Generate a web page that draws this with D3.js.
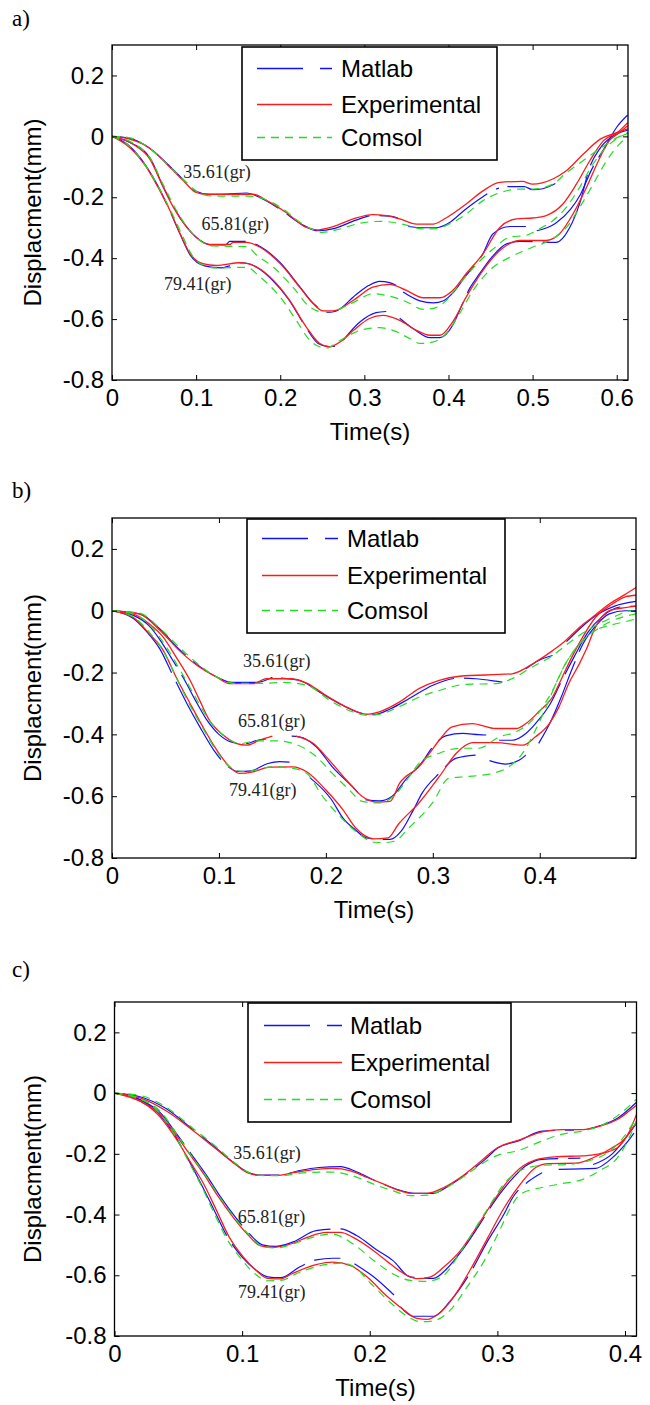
<!DOCTYPE html>
<html><head><meta charset="utf-8">
<script src="https://cdn.jsdelivr.net/npm/d3@7"></script>
<style>body{margin:0;background:#fff}svg{display:block}</style>
</head><body><svg id="chart" width="650" height="1405"></svg>
<script>
// ---------- DATA ----------
const seriesNames = ["Matlab", "Experimental", "Comsol"];
const loadLabels = ["35.61(gr)", "65.81(gr)", "79.41(gr)"];
const panelLetters = ["a)", "b)", "c)"];
const yTickValues = [-0.8, -0.6, -0.4, -0.2, 0, 0.2];
const xTicksA = [0, 0.1, 0.2, 0.3, 0.4, 0.5, 0.6];
const xTicksB = [0, 0.1, 0.2, 0.3, 0.4];
const xTicksC = [0, 0.1, 0.2, 0.3, 0.4];
const xMaxA = 0.6134, xMaxB = 0.49, xMaxC = 0.409;
const yMin = -0.8, yMax = 0.3;

// Panel a
const A_EXP_35 = [[0,0],[0.02,-0.008],[0.037,-0.026],[0.05,-0.05],[0.065,-0.091],[0.085,-0.146],[0.1,-0.184],[0.112,-0.19],[0.168,-0.19],[0.184,-0.211],[0.207,-0.25],[0.231,-0.299],[0.243,-0.307],[0.263,-0.296],[0.287,-0.271],[0.31,-0.257],[0.326,-0.26],[0.342,-0.271],[0.362,-0.288],[0.382,-0.288],[0.397,-0.268],[0.421,-0.222],[0.441,-0.179],[0.461,-0.151],[0.488,-0.148],[0.5,-0.157],[0.524,-0.14],[0.54,-0.113],[0.56,-0.059],[0.58,-0.01],[0.6,0.012],[0.613,0.025]];
const A_MAT_35 = [[0,0],[0.02,-0.006],[0.04,-0.03],[0.065,-0.088],[0.085,-0.143],[0.1,-0.18],[0.115,-0.19],[0.13,-0.19],[0.16,-0.186],[0.175,-0.2],[0.2,-0.24],[0.225,-0.288],[0.245,-0.31],[0.265,-0.302],[0.29,-0.275],[0.31,-0.26],[0.33,-0.262],[0.34,-0.268],[0.345,null],[0.352,-0.296],[0.37,-0.3],[0.385,-0.3],[0.4,-0.285],[0.42,-0.24],[0.44,-0.2],[0.455,-0.175],[0.46,-0.17],[0.465,null],[0.47,-0.165],[0.49,-0.165],[0.5,-0.175],[0.512,-0.172],[0.527,-0.155]];
const A_COM_35 = [[0,0],[0.02,-0.004],[0.04,-0.03],[0.065,-0.09],[0.088,-0.15],[0.105,-0.188],[0.12,-0.196],[0.16,-0.196],[0.18,-0.205],[0.2,-0.232],[0.225,-0.285],[0.25,-0.315],[0.27,-0.305],[0.295,-0.285],[0.32,-0.279],[0.345,-0.288],[0.37,-0.304],[0.385,-0.303],[0.397,-0.293],[0.421,-0.255],[0.441,-0.211],[0.461,-0.185],[0.485,-0.173],[0.5,-0.173],[0.524,-0.157],[0.54,-0.12],[0.56,-0.08],[0.58,-0.04],[0.6,-0.005],[0.613,0.012]];
const A_EXP_65 = [[0,0],[0.025,-0.026],[0.045,-0.075],[0.061,-0.168],[0.073,-0.233],[0.089,-0.299],[0.105,-0.342],[0.116,-0.355],[0.14,-0.355],[0.144,-0.348],[0.16,-0.348],[0.176,-0.364],[0.2,-0.418],[0.223,-0.495],[0.239,-0.549],[0.251,-0.573],[0.263,-0.573],[0.287,-0.538],[0.31,-0.495],[0.33,-0.486],[0.35,-0.506],[0.37,-0.53],[0.39,-0.53],[0.405,-0.506],[0.421,-0.451],[0.441,-0.386],[0.461,-0.299],[0.481,-0.271],[0.5,-0.268],[0.516,-0.26],[0.536,-0.222],[0.552,-0.157],[0.568,-0.08],[0.584,-0.015],[0.603,0.018],[0.613,0.045]];
const A_MAT_65 = [[0,0],[0.02,-0.018],[0.045,-0.07],[0.06,-0.16],[0.072,-0.225],[0.088,-0.295],[0.104,-0.34],[0.118,-0.356],[0.135,-0.356],[0.14,-0.345],[0.158,-0.345],[0.175,-0.36],[0.2,-0.415],[0.225,-0.5],[0.24,-0.55],[0.255,-0.578],[0.265,-0.575],[0.29,-0.52],[0.305,-0.49],[0.318,-0.476],[0.33,-0.48],[0.338,-0.49],[0.342,null],[0.346,-0.511],[0.366,-0.54],[0.382,-0.547],[0.394,-0.54],[0.405,-0.515],[0.42,-0.46],[0.44,-0.39],[0.453,-0.32],[0.473,-0.296],[0.492,-0.296],[0.496,null],[0.505,-0.31],[0.527,-0.286],[0.545,-0.24],[0.557,-0.19],[0.57,-0.11],[0.585,-0.04],[0.6,0.03],[0.613,0.07]];
const A_COM_65 = [[0,0],[0.025,-0.022],[0.045,-0.07],[0.062,-0.165],[0.075,-0.235],[0.09,-0.3],[0.106,-0.345],[0.12,-0.36],[0.16,-0.362],[0.172,-0.39],[0.192,-0.43],[0.215,-0.495],[0.235,-0.56],[0.25,-0.576],[0.26,-0.575],[0.287,-0.545],[0.31,-0.517],[0.326,-0.522],[0.35,-0.543],[0.37,-0.568],[0.382,-0.565],[0.397,-0.54],[0.413,-0.485],[0.43,-0.43],[0.453,-0.37],[0.473,-0.331],[0.492,-0.325],[0.508,-0.304],[0.524,-0.277],[0.54,-0.233],[0.556,-0.167],[0.572,-0.09],[0.588,-0.035],[0.603,-0.003],[0.613,0.01]];
const A_EXP_79 = [[0,0],[0.021,-0.037],[0.041,-0.102],[0.057,-0.179],[0.069,-0.244],[0.081,-0.32],[0.093,-0.386],[0.108,-0.418],[0.124,-0.424],[0.152,-0.415],[0.16,-0.417],[0.172,-0.429],[0.192,-0.473],[0.211,-0.538],[0.231,-0.626],[0.247,-0.68],[0.259,-0.691],[0.271,-0.675],[0.287,-0.637],[0.306,-0.598],[0.322,-0.588],[0.342,-0.604],[0.362,-0.637],[0.378,-0.653],[0.39,-0.653],[0.405,-0.609],[0.421,-0.528],[0.441,-0.44],[0.461,-0.375],[0.485,-0.342],[0.516,-0.342],[0.532,-0.32],[0.548,-0.255],[0.564,-0.168],[0.58,-0.07],[0.591,-0.015],[0.603,0.012],[0.613,0.035]];
const A_MAT_79 = [[0,0],[0.02,-0.03],[0.04,-0.095],[0.056,-0.17],[0.068,-0.24],[0.08,-0.315],[0.093,-0.39],[0.11,-0.425],[0.13,-0.432],[0.14,-0.425],[0.155,-0.415],[0.165,-0.42],[0.172,-0.43],[0.19,-0.47],[0.21,-0.535],[0.23,-0.625],[0.245,-0.68],[0.257,-0.69],[0.265,-0.69],[0.268,null],[0.275,-0.669],[0.295,-0.609],[0.314,-0.579],[0.326,-0.575],[0.332,null],[0.342,-0.597],[0.36,-0.635],[0.378,-0.661],[0.39,-0.661],[0.405,-0.62],[0.415,-0.56],[0.425,-0.5],[0.437,-0.451],[0.452,-0.395],[0.469,-0.353],[0.485,-0.345],[0.528,-0.348],[0.544,-0.3],[0.556,-0.22],[0.568,-0.1],[0.58,-0.04],[0.595,0.0],[0.613,0.02]];
const A_COM_79 = [[0,0],[0.02,-0.03],[0.04,-0.097],[0.057,-0.175],[0.07,-0.245],[0.083,-0.322],[0.095,-0.39],[0.11,-0.425],[0.125,-0.432],[0.16,-0.43],[0.176,-0.462],[0.2,-0.528],[0.219,-0.604],[0.235,-0.669],[0.247,-0.691],[0.255,-0.695],[0.271,-0.67],[0.295,-0.637],[0.318,-0.628],[0.334,-0.637],[0.354,-0.664],[0.366,-0.68],[0.382,-0.675],[0.397,-0.648],[0.413,-0.583],[0.429,-0.507],[0.453,-0.43],[0.473,-0.397],[0.5,-0.364],[0.52,-0.342],[0.54,-0.3],[0.556,-0.233],[0.572,-0.157],[0.588,-0.08],[0.603,-0.026],[0.613,0.0]];

// Panel b
const B_EXP_35 = [[0,0],[0.026,-0.011],[0.045,-0.064],[0.063,-0.129],[0.082,-0.183],[0.098,-0.215],[0.11,-0.236],[0.132,-0.236],[0.144,-0.22],[0.166,-0.22],[0.182,-0.234],[0.2,-0.274],[0.219,-0.311],[0.238,-0.335],[0.25,-0.327],[0.269,-0.295],[0.287,-0.252],[0.306,-0.225],[0.325,-0.212],[0.374,-0.204],[0.396,-0.166],[0.412,-0.129],[0.424,-0.097],[0.437,-0.054],[0.449,-0.022],[0.465,0.022],[0.48,0.053],[0.49,0.075]];
const B_MAT_35 = [[0,0],[0.026,-0.01],[0.045,-0.06],[0.063,-0.125],[0.082,-0.18],[0.1,-0.218],[0.112,-0.232],[0.135,-0.232],[0.15,-0.215],[0.152,null],[0.158,-0.218],[0.175,-0.225],[0.195,-0.265],[0.215,-0.305],[0.235,-0.333],[0.245,-0.336],[0.26,-0.318],[0.278,-0.284],[0.3,-0.241],[0.325,-0.218],[0.34,-0.22],[0.359,-0.228],[0.365,-0.231],[0.37,null],[0.387,-0.188],[0.399,-0.161],[0.412,-0.145],[0.415,null],[0.425,-0.1],[0.44,-0.05],[0.455,-0.01],[0.47,0.015],[0.49,0.03]];
const B_COM_35 = [[0,0],[0.026,-0.008],[0.045,-0.058],[0.065,-0.125],[0.085,-0.185],[0.1,-0.218],[0.115,-0.235],[0.14,-0.235],[0.16,-0.232],[0.182,-0.241],[0.206,-0.295],[0.225,-0.327],[0.238,-0.338],[0.25,-0.335],[0.269,-0.31],[0.287,-0.28],[0.306,-0.258],[0.331,-0.238],[0.359,-0.236],[0.374,-0.22],[0.393,-0.182],[0.412,-0.145],[0.43,-0.097],[0.449,-0.054],[0.468,-0.022],[0.486,0.0],[0.49,-0.005]];
const B_EXP_65 = [[0,0],[0.02,-0.011],[0.035,-0.043],[0.048,-0.086],[0.06,-0.15],[0.073,-0.225],[0.082,-0.29],[0.091,-0.354],[0.104,-0.402],[0.116,-0.429],[0.126,-0.435],[0.138,-0.419],[0.15,-0.406],[0.153,null],[0.172,-0.406],[0.188,-0.429],[0.203,-0.483],[0.219,-0.547],[0.234,-0.601],[0.247,-0.619],[0.26,-0.617],[0.269,-0.558],[0.287,-0.505],[0.297,-0.461],[0.306,-0.419],[0.318,-0.376],[0.337,-0.365],[0.359,-0.381],[0.378,-0.381],[0.387,-0.365],[0.399,-0.327],[0.412,-0.279],[0.421,-0.215],[0.43,-0.15],[0.44,-0.086],[0.452,-0.022],[0.468,0.022],[0.48,0.045],[0.49,0.05]];
const B_MAT_65 = [[0,0],[0.02,-0.015],[0.035,-0.05],[0.045,-0.095],[0.055,-0.15],[0.068,-0.225],[0.078,-0.29],[0.088,-0.35],[0.1,-0.4],[0.112,-0.425],[0.125,-0.43],[0.135,-0.42],[0.144,-0.415],[0.148,null],[0.168,-0.406],[0.175,-0.408],[0.191,-0.44],[0.206,-0.505],[0.225,-0.569],[0.238,-0.612],[0.25,-0.615],[0.262,-0.6],[0.275,-0.545],[0.29,-0.49],[0.3,-0.44],[0.312,-0.405],[0.328,-0.397],[0.343,-0.401],[0.35,-0.402],[0.355,null],[0.362,-0.419],[0.374,-0.419],[0.387,-0.397],[0.396,-0.365],[0.41,-0.3],[0.42,-0.23],[0.432,-0.15],[0.445,-0.07],[0.458,-0.02],[0.475,0.012],[0.49,0.015]];
const B_COM_65 = [[0,0],[0.02,-0.01],[0.035,-0.045],[0.051,-0.118],[0.065,-0.2],[0.078,-0.28],[0.09,-0.35],[0.105,-0.405],[0.12,-0.43],[0.135,-0.421],[0.154,-0.421],[0.169,-0.429],[0.191,-0.472],[0.206,-0.526],[0.222,-0.58],[0.234,-0.617],[0.25,-0.622],[0.263,-0.601],[0.278,-0.537],[0.287,-0.494],[0.306,-0.461],[0.325,-0.445],[0.343,-0.445],[0.362,-0.408],[0.378,-0.392],[0.396,-0.343],[0.412,-0.258],[0.424,-0.172],[0.437,-0.107],[0.452,-0.064],[0.468,-0.032],[0.486,-0.013],[0.49,-0.01]];
const B_EXP_79 = [[0,0],[0.02,-0.022],[0.035,-0.075],[0.048,-0.129],[0.06,-0.215],[0.073,-0.3],[0.085,-0.376],[0.098,-0.451],[0.11,-0.505],[0.119,-0.526],[0.132,-0.521],[0.147,-0.506],[0.169,-0.505],[0.182,-0.521],[0.2,-0.58],[0.216,-0.644],[0.228,-0.703],[0.245,-0.738],[0.258,-0.735],[0.268,-0.69],[0.287,-0.622],[0.306,-0.537],[0.322,-0.461],[0.337,-0.427],[0.359,-0.427],[0.384,-0.435],[0.396,-0.408],[0.409,-0.365],[0.418,-0.311],[0.427,-0.236],[0.437,-0.172],[0.443,-0.129],[0.452,-0.054],[0.465,0.0],[0.48,0.01],[0.49,0.015]];
const B_MAT_79 = [[0,0],[0.02,-0.025],[0.033,-0.07],[0.045,-0.125],[0.057,-0.21],[0.07,-0.3],[0.082,-0.375],[0.095,-0.45],[0.107,-0.5],[0.118,-0.52],[0.13,-0.518],[0.145,-0.495],[0.157,-0.488],[0.166,-0.49],[0.17,null],[0.185,-0.54],[0.205,-0.61],[0.216,-0.671],[0.228,-0.71],[0.238,-0.735],[0.26,-0.74],[0.27,-0.715],[0.281,-0.65],[0.29,-0.59],[0.306,-0.526],[0.322,-0.477],[0.34,-0.467],[0.345,null],[0.353,-0.485],[0.368,-0.496],[0.381,-0.483],[0.387,-0.467],[0.39,null],[0.399,-0.429],[0.41,-0.36],[0.42,-0.28],[0.43,-0.19],[0.44,-0.11],[0.452,-0.05],[0.465,-0.01],[0.48,0.0],[0.49,0.0]];
const B_COM_79 = [[0,0],[0.02,-0.02],[0.035,-0.07],[0.048,-0.13],[0.06,-0.215],[0.072,-0.3],[0.085,-0.38],[0.098,-0.455],[0.11,-0.505],[0.122,-0.52],[0.135,-0.515],[0.15,-0.505],[0.169,-0.51],[0.182,-0.526],[0.197,-0.601],[0.213,-0.665],[0.23,-0.719],[0.245,-0.749],[0.255,-0.75],[0.265,-0.745],[0.276,-0.708],[0.3,-0.62],[0.315,-0.542],[0.331,-0.537],[0.356,-0.526],[0.371,-0.505],[0.384,-0.461],[0.396,-0.386],[0.406,-0.311],[0.415,-0.236],[0.424,-0.172],[0.437,-0.11],[0.449,-0.07],[0.468,-0.045],[0.486,-0.03],[0.49,-0.025]];

// Panel c
const C_EXP_35 = [[0,0],[0.02,-0.016],[0.041,-0.06],[0.062,-0.125],[0.077,-0.175],[0.093,-0.229],[0.104,-0.262],[0.114,-0.271],[0.127,-0.271],[0.14,-0.262],[0.158,-0.251],[0.171,-0.248],[0.185,-0.256],[0.198,-0.278],[0.211,-0.3],[0.224,-0.322],[0.232,-0.33],[0.245,-0.33],[0.258,-0.311],[0.271,-0.278],[0.284,-0.235],[0.3,-0.18],[0.318,-0.153],[0.335,-0.128],[0.351,-0.12],[0.367,-0.12],[0.38,-0.109],[0.394,-0.087],[0.403,-0.06],[0.409,-0.04]];
const C_MAT_35 = [[0,0],[0.02,-0.012],[0.04,-0.05],[0.06,-0.115],[0.077,-0.172],[0.093,-0.228],[0.105,-0.262],[0.115,-0.27],[0.13,-0.27],[0.145,-0.255],[0.16,-0.245],[0.177,-0.242],[0.19,-0.26],[0.205,-0.29],[0.22,-0.315],[0.235,-0.33],[0.25,-0.33],[0.262,-0.305],[0.275,-0.268],[0.29,-0.22],[0.3,-0.182],[0.318,-0.155],[0.335,-0.125],[0.36,-0.122],[0.362,null],[0.37,-0.12],[0.38,-0.108],[0.395,-0.08],[0.409,-0.03]];
const C_COM_35 = [[0,0],[0.02,-0.008],[0.04,-0.045],[0.062,-0.118],[0.08,-0.178],[0.095,-0.232],[0.107,-0.265],[0.118,-0.272],[0.13,-0.272],[0.15,-0.262],[0.17,-0.26],[0.187,-0.273],[0.203,-0.3],[0.219,-0.323],[0.232,-0.338],[0.245,-0.336],[0.258,-0.316],[0.272,-0.28],[0.287,-0.235],[0.3,-0.205],[0.315,-0.191],[0.335,-0.158],[0.351,-0.135],[0.367,-0.125],[0.38,-0.109],[0.394,-0.075],[0.409,-0.02]];
const C_EXP_65 = [[0,0],[0.02,-0.027],[0.036,-0.071],[0.046,-0.125],[0.059,-0.202],[0.07,-0.267],[0.08,-0.333],[0.093,-0.409],[0.104,-0.464],[0.114,-0.502],[0.124,-0.508],[0.138,-0.497],[0.151,-0.475],[0.166,-0.459],[0.177,-0.459],[0.187,-0.475],[0.203,-0.519],[0.216,-0.562],[0.229,-0.6],[0.237,-0.611],[0.247,-0.606],[0.258,-0.573],[0.271,-0.519],[0.284,-0.44],[0.297,-0.355],[0.31,-0.28],[0.32,-0.24],[0.33,-0.22],[0.345,-0.21],[0.37,-0.206],[0.38,-0.2],[0.394,-0.18],[0.403,-0.13],[0.409,-0.07]];
const C_MAT_65 = [[0,0],[0.02,-0.022],[0.036,-0.065],[0.048,-0.13],[0.06,-0.2],[0.072,-0.27],[0.082,-0.335],[0.095,-0.41],[0.106,-0.465],[0.116,-0.5],[0.126,-0.505],[0.14,-0.49],[0.158,-0.453],[0.177,-0.447],[0.19,-0.47],[0.205,-0.515],[0.218,-0.551],[0.232,-0.606],[0.25,-0.61],[0.26,-0.58],[0.272,-0.52],[0.285,-0.44],[0.298,-0.355],[0.31,-0.29],[0.322,-0.24],[0.335,-0.218],[0.365,-0.214],[0.37,null],[0.375,-0.235],[0.39,-0.2],[0.4,-0.15],[0.409,-0.1]];
const C_COM_65 = [[0,0],[0.02,-0.02],[0.036,-0.06],[0.048,-0.13],[0.06,-0.205],[0.072,-0.275],[0.082,-0.34],[0.094,-0.41],[0.105,-0.465],[0.116,-0.505],[0.126,-0.51],[0.14,-0.497],[0.155,-0.475],[0.17,-0.464],[0.187,-0.497],[0.203,-0.551],[0.218,-0.595],[0.232,-0.617],[0.245,-0.62],[0.258,-0.6],[0.27,-0.53],[0.282,-0.45],[0.294,-0.37],[0.305,-0.3],[0.318,-0.255],[0.335,-0.238],[0.355,-0.235],[0.37,-0.225],[0.385,-0.2],[0.398,-0.15],[0.409,-0.08]];
const C_EXP_79 = [[0,0],[0.015,-0.016],[0.034,-0.071],[0.046,-0.136],[0.059,-0.224],[0.07,-0.3],[0.08,-0.387],[0.09,-0.475],[0.101,-0.54],[0.111,-0.584],[0.12,-0.61],[0.13,-0.612],[0.139,-0.595],[0.158,-0.565],[0.171,-0.557],[0.185,-0.568],[0.198,-0.606],[0.214,-0.671],[0.227,-0.715],[0.237,-0.742],[0.245,-0.745],[0.253,-0.73],[0.266,-0.67],[0.279,-0.58],[0.292,-0.48],[0.305,-0.38],[0.318,-0.3],[0.33,-0.245],[0.34,-0.232],[0.361,-0.231],[0.375,-0.213],[0.39,-0.18],[0.4,-0.15],[0.409,-0.095]];
const C_MAT_79 = [[0,0],[0.015,-0.012],[0.034,-0.065],[0.046,-0.13],[0.058,-0.22],[0.068,-0.3],[0.078,-0.385],[0.088,-0.47],[0.1,-0.54],[0.11,-0.58],[0.12,-0.605],[0.13,-0.608],[0.145,-0.573],[0.158,-0.549],[0.171,-0.544],[0.177,-0.544],[0.182,null],[0.188,-0.562],[0.203,-0.605],[0.219,-0.665],[0.221,null],[0.224,-0.704],[0.234,-0.735],[0.25,-0.735],[0.263,-0.685],[0.279,-0.59],[0.292,-0.49],[0.305,-0.4],[0.312,-0.344],[0.325,-0.289],[0.335,-0.262],[0.34,null],[0.348,-0.251],[0.377,-0.248],[0.387,-0.224],[0.4,-0.17],[0.409,-0.12]];
const C_COM_79 = [[0,0],[0.015,-0.01],[0.034,-0.06],[0.046,-0.13],[0.058,-0.225],[0.068,-0.305],[0.078,-0.395],[0.088,-0.48],[0.1,-0.55],[0.11,-0.595],[0.12,-0.618],[0.13,-0.617],[0.145,-0.59],[0.165,-0.565],[0.178,-0.56],[0.188,-0.573],[0.201,-0.628],[0.217,-0.693],[0.23,-0.737],[0.24,-0.753],[0.25,-0.75],[0.263,-0.715],[0.276,-0.64],[0.29,-0.55],[0.302,-0.45],[0.31,-0.38],[0.318,-0.333],[0.335,-0.311],[0.348,-0.3],[0.367,-0.284],[0.38,-0.256],[0.394,-0.213],[0.403,-0.15],[0.409,-0.09]];

// ---------- LAYOUT / STYLE ----------
const styleOf = {
  Matlab:       {color: "#1010ff", dash: "90,10", legendDash: "46,17", width: 1.2},
  Experimental: {color: "#ff1a1a", dash: null,    legendDash: null,    width: 1.3},
  Comsol:       {color: "#22dd22", dash: "8,6",   legendDash: "8,6",   width: 1.2}
};
const drawOrder = ["Matlab", "Experimental", "Comsol"];

const panels = [
  {letter: panelLetters[0], letterY: 26, left: 112, right: 628, top: 45, bottom: 380, xMax: xMaxA, xTicks: xTicksA,
   legend: {x0: 242, x1: 497, y0: 47, y1: 160, rows: [68, 104, 137], lx0: 257, lx1: 332, tx: 341},
   annot: [[0.0847, -0.136], [0.1065, -0.307], [0.0618, -0.503]],
   data: {Matlab: [A_MAT_35, A_MAT_65, A_MAT_79], Experimental: [A_EXP_35, A_EXP_65, A_EXP_79], Comsol: [A_COM_35, A_COM_65, A_COM_79]}},
  {letter: panelLetters[1], letterY: 498, left: 112, right: 636, top: 518, bottom: 858, xMax: xMaxB, xTicks: xTicksB,
   legend: {x0: 247, x1: 505, y0: 519, y1: 633, rows: [538, 575, 610], lx0: 262, lx1: 338, tx: 347},
   annot: [[0.1225, -0.1826], [0.1178, -0.3757], [0.1094, -0.601]],
   data: {Matlab: [B_MAT_35, B_MAT_65, B_MAT_79], Experimental: [B_EXP_35, B_EXP_65, B_EXP_79], Comsol: [B_COM_35, B_COM_65, B_COM_79]}},
  {letter: panelLetters[2], letterY: 977, left: 114.5, right: 636.5, top: 1002, bottom: 1336, xMax: xMaxC, xTicks: xTicksC,
   legend: {x0: 248, x1: 511, y0: 1003, y1: 1122, rows: [1025, 1062, 1099], lx0: 264, lx1: 342, tx: 350},
   annot: [[0.0931, -0.218], [0.0966, -0.429], [0.0968, -0.676]],
   data: {Matlab: [C_MAT_35, C_MAT_65, C_MAT_79], Experimental: [C_EXP_35, C_EXP_65, C_EXP_79], Comsol: [C_COM_35, C_COM_65, C_COM_79]}}
];

const SANS = "'Liberation Sans', Arial, sans-serif";
const SERIF = "'Liberation Serif', 'Times New Roman', serif";
const fmt = d => String(d);

const svg = d3.select("#chart");
svg.append("rect").attr("width", 650).attr("height", 1405).attr("fill", "#fff");

panels.forEach((p, i) => {
  const x = d3.scaleLinear().domain([0, p.xMax]).range([p.left, p.right]);
  const y = d3.scaleLinear().domain([yMin, yMax]).range([p.bottom, p.top]);
  const g = svg.append("g");

  g.append("text").attr("x", 12).attr("y", p.letterY).attr("font-family", SERIF)
    .attr("font-size", 23).attr("fill", "#000").text(p.letter);

  const cid = "clip" + i;
  svg.append("clipPath").attr("id", cid).append("rect")
    .attr("x", p.left).attr("y", p.top).attr("width", p.right - p.left).attr("height", p.bottom - p.top);

  const line = d3.line().defined(d => d[1] !== null).x(d => x(d[0])).y(d => y(d[1])).curve(d3.curveMonotoneX);
  const plot = g.append("g").attr("clip-path", `url(#${cid})`);
  drawOrder.forEach(name => {
    const st = styleOf[name];
    p.data[name].forEach(arr => {
      plot.append("path").datum(arr).attr("d", line).attr("fill", "none")
        .attr("stroke", st.color).attr("stroke-width", st.width)
        .attr("stroke-dasharray", st.dash);
    });
  });

  const styleAxis = sel => {
    sel.select(".domain").remove();
    sel.selectAll(".tick line").attr("stroke", "#000").attr("stroke-width", 1);
    sel.selectAll(".tick text").attr("font-family", SANS).attr("font-size", 24).attr("fill", "#000");
    sel.attr("font-family", null).attr("font-size", null);
  };
  g.append("g").attr("transform", `translate(${p.left},0)`)
    .call(d3.axisLeft(y).tickValues(yTickValues).tickSize(-5).tickPadding(8).tickFormat(fmt)).call(styleAxis);
  g.append("g").attr("transform", `translate(${p.right},0)`)
    .call(d3.axisRight(y).tickValues(yTickValues).tickSize(-5).tickFormat("")).call(styleAxis);
  g.append("g").attr("transform", `translate(0,${p.bottom})`)
    .call(d3.axisBottom(x).tickValues(p.xTicks).tickSize(-5).tickPadding(9).tickFormat(fmt)).call(styleAxis);
  g.append("g").attr("transform", `translate(0,${p.top})`)
    .call(d3.axisTop(x).tickValues(p.xTicks).tickSize(-5).tickFormat("")).call(styleAxis);

  g.append("rect").attr("x", p.left).attr("y", p.top).attr("width", p.right - p.left)
    .attr("height", p.bottom - p.top).attr("fill", "none").attr("stroke", "#000").attr("stroke-width", 1.3);

  g.append("text").attr("x", (p.left + p.right) / 2).attr("y", p.bottom + 60)
    .attr("text-anchor", "middle").attr("font-family", SANS).attr("font-size", 24).text("Time(s)");
  g.append("text").attr("transform", `translate(41,${(p.top + p.bottom) / 2}) rotate(-90)`)
    .attr("text-anchor", "middle").attr("font-family", SANS).attr("font-size", 24).text("Displacment(mm)");

  p.annot.forEach((a, k) => {
    g.append("text").attr("x", x(a[0])).attr("y", y(a[1])).attr("font-family", SERIF)
      .attr("font-size", 18).attr("fill", "#222").text(loadLabels[k]);
  });

  const L = p.legend;
  g.append("rect").attr("x", L.x0).attr("y", L.y0).attr("width", L.x1 - L.x0).attr("height", L.y1 - L.y0)
    .attr("fill", "#fff").attr("stroke", "#000").attr("stroke-width", 1.6);
  seriesNames.forEach((name, k) => {
    const st = styleOf[name];
    g.append("line").attr("x1", L.lx0).attr("x2", L.lx1).attr("y1", L.rows[k] + 0.5).attr("y2", L.rows[k] + 0.5)
      .attr("stroke", st.color).attr("stroke-width", 1.3).attr("stroke-dasharray", st.legendDash);
    g.append("text").attr("x", L.tx).attr("y", L.rows[k] + 9).attr("font-family", SANS)
      .attr("font-size", 24).attr("fill", "#000").text(name);
  });
});
</script>
</body></html>
